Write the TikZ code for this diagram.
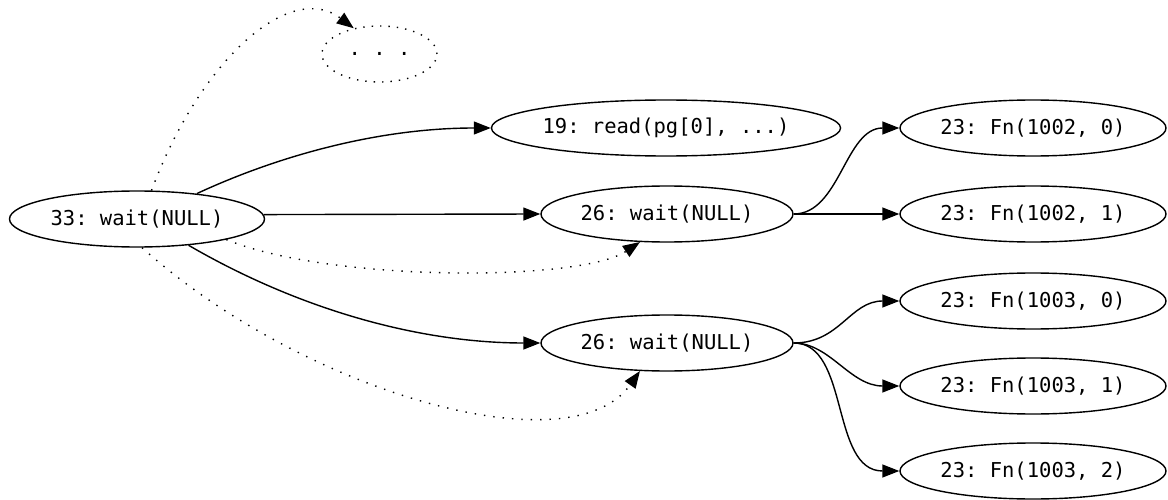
\documentclass[tikz,border=0pt]{standalone}
\usepackage{fontspec}
\setmonofont{DejaVu Sans Mono}
\usetikzlibrary{shapes.geometric,arrows.meta}
\begin{document}
\begin{tikzpicture}[x=1pt,y=-1pt,
  every node/.style={font=\ttfamily\fontsize{20.5}{24}\selectfont},
  nd/.style={ellipse,draw,line width=1.4pt,inner sep=0pt,minimum height=56pt},
  edge/.style={line width=1.4pt,-{Triangle[length=17pt,width=13pt]}},
  dotedge/.style={edge,dash pattern=on 1.4pt off 8pt},
  dotnode/.style={nd,dash pattern=on 1.4pt off 7pt}]
\useasboundingbox (0,0) rectangle (1168,500);

\node[nd,minimum width=255pt] (A) at (137,219) {33: wait(NULL)};
\node[dotnode,minimum width=115pt] (D) at (379.5,54) {. . .};
\node[nd,minimum width=345pt] (R) at (666,128) {19: read(pg[0], ...)};
\node[nd,minimum width=252pt] (W1) at (667,214) {26: wait(NULL)};
\node[nd,minimum width=252pt] (W2) at (667,343) {26: wait(NULL)};
\node[nd,minimum width=266pt] (F1) at (1033,128) {23: Fn(1002, 0)};
\node[nd,minimum width=266pt] (F2) at (1033,214) {23: Fn(1002, 1)};
\node[nd,minimum width=266pt] (F3) at (1033,301) {23: Fn(1003, 0)};
\node[nd,minimum width=266pt] (F4) at (1033,386) {23: Fn(1003, 1)};
\node[nd,minimum width=266pt] (F5) at (1033,471) {23: Fn(1003, 2)};

% solid edges from A
\draw[edge] (A.23) .. controls (280,155) and (380,128) .. (R.west);
\draw[edge] (A.2) -- (W1.west);
\draw[edge] (A.-27) .. controls (300,310) and (420,343) .. (W2.west);

% dotted edges from A
\draw[dotedge] (A.63) .. controls (200,60) and (290,-20) .. (D.135);
\draw[dotedge] (A.-13) .. controls (330,282) and (580,282) .. (W1.226);
\draw[dotedge] (A.-80) .. controls (300,390) and (570,470) .. (W2.226);

% from W1
\draw[edge] (W1.east) .. controls (840,214) and (845,128) .. (F1.west);
\draw[edge] (W1.east) -- (F2.west);

% from W2
\draw[edge] (W2.east) .. controls (840,343) and (850,301) .. (F3.west);
\draw[edge] (W2.east) .. controls (830,343) and (850,386) .. (F4.west);
\draw[edge] (W2.east) .. controls (850,343) and (830,471) .. (F5.west);
\end{tikzpicture}
\end{document}
